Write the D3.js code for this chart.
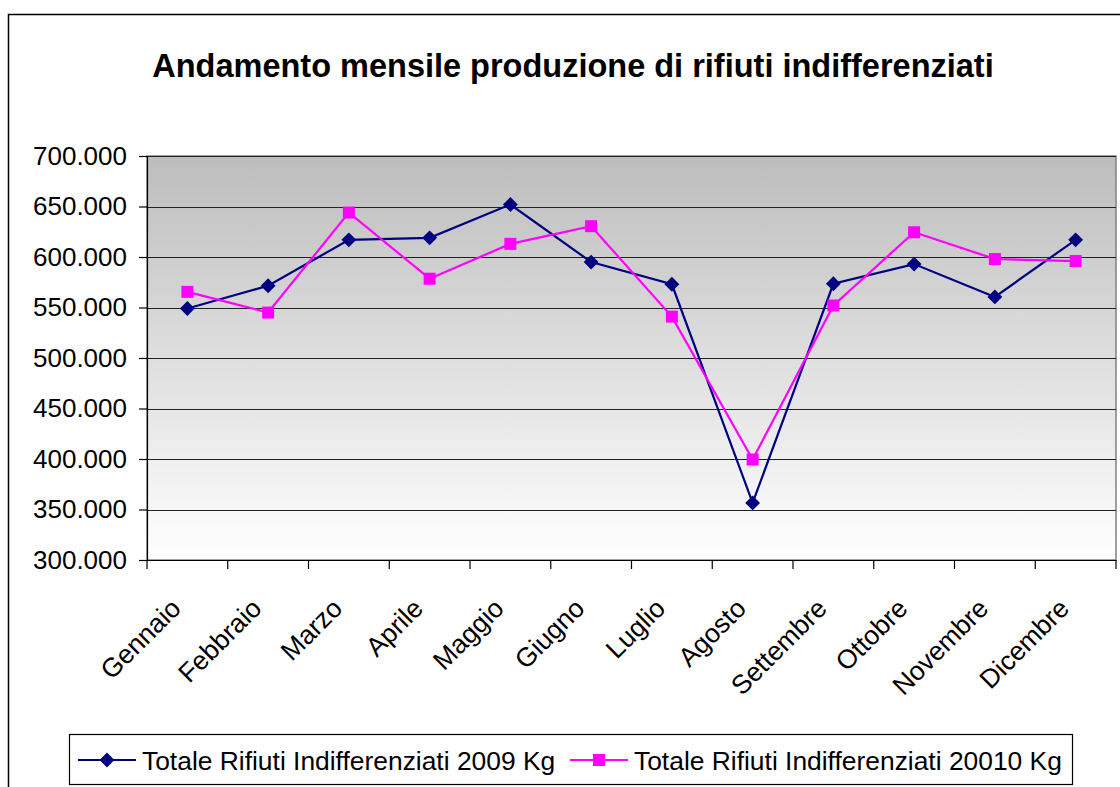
<!DOCTYPE html>
<html>
<head>
<meta charset="utf-8">
<script src="https://cdn.jsdelivr.net/npm/d3@7"></script>
<style>
  body { margin: 0; background: #fff; }
  svg { display: block; font-family: "Liberation Sans", Arial, sans-serif; }
</style>
</head>
<body>
<svg id="chart" width="1120" height="787"></svg>
<script>
const months = ["Gennaio", "Febbraio", "Marzo", "Aprile", "Maggio", "Giugno",
  "Luglio", "Agosto", "Settembre", "Ottobre", "Novembre", "Dicembre"];
const values2009 = [549000, 571500, 617000, 619000, 652000, 595000,
  573000, 356500, 573500, 593000, 560500, 617000];
const values2010 = [565500, 545000, 644000, 578500, 613000, 630500,
  541000, 399500, 552000, 624500, 598000, 596000];
const yTicks = [300000, 350000, 400000, 450000, 500000, 550000, 600000, 650000, 700000];
const seriesNames = ["Totale Rifiuti Indifferenziati 2009 Kg", "Totale Rifiuti Indifferenziati 20010 Kg"];

const config = {
  plot: { left: 147, right: 1116, top: 156, bottom: 560 },
  navy: "#000080",
  magenta: "#ff00ff"
};

const svg = d3.select("#chart");
const fmt = d => d3.format(",")(d).replace(/,/g, ".");

// outer chart border
svg.append("rect")
  .attr("x", 8.5).attr("y", 14.5)
  .attr("width", 1130).attr("height", 800)
  .attr("fill", "#fff").attr("stroke", "#000").attr("stroke-width", 1.5);

svg.append("text")
  .attr("x", 573).attr("y", 77)
  .attr("text-anchor", "middle")
  .attr("font-size", 32.5).attr("font-weight", "bold")
  .text("Andamento mensile produzione di rifiuti indifferenziati");

const x = d3.scaleBand()
  .domain(months)
  .range([config.plot.left, config.plot.right]);

const y = d3.scaleLinear()
  .domain([300000, 700000])
  .range([config.plot.bottom, config.plot.top]);

// background gradient
const grad = svg.append("defs").append("linearGradient")
  .attr("id", "bg").attr("x1", 0).attr("y1", 0).attr("x2", 0).attr("y2", 1);
grad.append("stop").attr("offset", "0%").attr("stop-color", "#bdbdbd");
grad.append("stop").attr("offset", "100%").attr("stop-color", "#ffffff");

svg.append("rect")
  .attr("x", config.plot.left).attr("y", config.plot.top)
  .attr("width", config.plot.right - config.plot.left)
  .attr("height", config.plot.bottom - config.plot.top)
  .attr("fill", "url(#bg)")
  .attr("stroke", "#808080").attr("stroke-width", 1.5);

// gridlines
svg.append("g")
  .selectAll("line")
  .data(yTicks.slice(1))
  .enter()
  .append("line")
  .attr("x1", config.plot.left).attr("x2", config.plot.right)
  .attr("y1", d => Math.round(y(d)) + 0.5).attr("y2", d => Math.round(y(d)) + 0.5)
  .attr("stroke", "#222").attr("stroke-width", 1.2);

// y axis
const yAxis = d3.axisLeft(y).tickValues(yTicks).tickFormat(fmt).tickSize(8).tickPadding(12);
const gy = svg.append("g")
  .attr("transform", `translate(${config.plot.left},0)`)
  .call(yAxis);
gy.selectAll("text").attr("font-size", 26).attr("fill", "#000").attr("font-family", "Liberation Sans, Arial, sans-serif");
gy.selectAll("line, path").attr("stroke", "#000").attr("stroke-width", 1.2);

// x axis
const xAxis = d3.axisBottom(x).tickSize(0).tickFormat("");
const gx = svg.append("g")
  .attr("transform", `translate(0,${config.plot.bottom})`)
  .call(xAxis);
gx.select("path").attr("stroke", "#000").attr("stroke-width", 1.2);

svg.append("g")
  .selectAll("line")
  .data(d3.range(months.length + 1))
  .enter()
  .append("line")
  .attr("x1", i => config.plot.left + i * x.step())
  .attr("x2", i => config.plot.left + i * x.step())
  .attr("y1", config.plot.bottom).attr("y2", config.plot.bottom + 9)
  .attr("stroke", "#000").attr("stroke-width", 1.2);

svg.append("g")
  .selectAll("text")
  .data(months)
  .enter()
  .append("text")
  .attr("transform", d => `translate(${x(d) + x.bandwidth() / 2 - 5},${config.plot.bottom + 50}) rotate(-45)`)
  .attr("text-anchor", "end")
  .attr("font-size", 26.5)
  .text(d => d);

// series
const line = d3.line()
  .x((d, i) => x(months[i]) + x.bandwidth() / 2)
  .y(d => y(d));

svg.append("path").datum(values2009)
  .attr("d", line).attr("fill", "none")
  .attr("stroke", config.navy).attr("stroke-width", 2.2);

svg.append("path").datum(values2010)
  .attr("d", line).attr("fill", "none")
  .attr("stroke", config.magenta).attr("stroke-width", 2.2);

const diamond = d3.symbol().type(d3.symbolSquare).size(110);

svg.append("g")
  .selectAll("path")
  .data(values2009)
  .enter()
  .append("path")
  .attr("d", diamond)
  .attr("transform", (d, i) => `translate(${x(months[i]) + x.bandwidth() / 2},${y(d)}) rotate(45)`)
  .attr("fill", config.navy);

svg.append("g")
  .selectAll("rect")
  .data(values2010)
  .enter()
  .append("rect")
  .attr("x", (d, i) => x(months[i]) + x.bandwidth() / 2 - 6)
  .attr("y", d => y(d) - 6)
  .attr("width", 12).attr("height", 12)
  .attr("fill", config.magenta);

// legend
const legend = svg.append("g");
legend.append("rect")
  .attr("x", 69.5).attr("y", 734.5)
  .attr("width", 1003).attr("height", 50)
  .attr("fill", "#fff").attr("stroke", "#000").attr("stroke-width", 1.2);

const legendItems = [
  { name: seriesNames[0], color: config.navy, x: 78, shape: "diamond" },
  { name: seriesNames[1], color: config.magenta, x: 570, shape: "square" }
];

legendItems.forEach(item => {
  const g = legend.append("g").attr("transform", `translate(${item.x},760)`);
  g.append("line").attr("x1", 0).attr("x2", 58)
    .attr("stroke", item.color).attr("stroke-width", 2.2);
  if (item.shape === "diamond") {
    g.append("path").attr("d", diamond).attr("transform", "translate(29,0) rotate(45)").attr("fill", item.color);
  } else {
    g.append("rect").attr("x", 23).attr("y", -6).attr("width", 12).attr("height", 12).attr("fill", item.color);
  }
  g.append("text").attr("x", 64).attr("y", 9.5)
    .attr("font-size", 26.4)
    .text(item.name);
});
</script>
</body>
</html>
